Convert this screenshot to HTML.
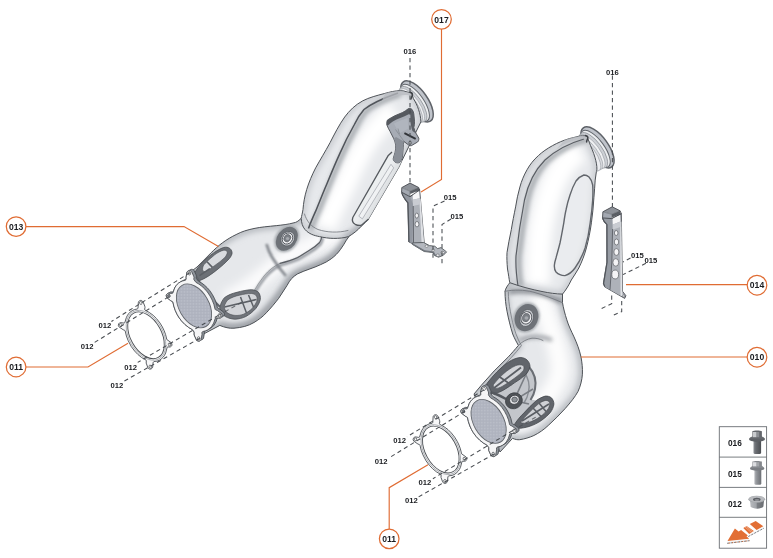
<!DOCTYPE html>
<html>
<head>
<meta charset="utf-8">
<title>Exhaust catalytic converter – exploded view</title>
<style>
html,body{margin:0;padding:0;background:#fff;}
body{width:773px;height:558px;overflow:hidden;font-family:"Liberation Sans",sans-serif;}
svg{display:block;}
text{font-family:"Liberation Sans",sans-serif;font-weight:bold;fill:#1b1d21;}
.lbl{font-size:8.1px;}
.co{font-size:8.6px;text-anchor:middle;}
.dash{fill:none;stroke:#484c51;stroke-width:1.05;stroke-dasharray:4.2 3.3;}
.or{fill:none;stroke:#e06c33;stroke-width:1.15;}
.orc{fill:#fff;stroke:#e06c33;stroke-width:1.25;}
.ol{fill:none;stroke:#4e5257;stroke-width:1;stroke-linejoin:round;stroke-linecap:round;}
.ol2{fill:none;stroke:#70747a;stroke-width:0.8;stroke-linejoin:round;stroke-linecap:round;}
</style>
</head>
<body>
<svg width="773" height="558" viewBox="0 0 773 558">
<defs>
  <pattern id="mesh" width="1.5" height="1.5" patternUnits="userSpaceOnUse" patternTransform="rotate(30)"><rect width="1.5" height="1.5" fill="#aeb2be"/><rect width="0.75" height="0.75" fill="#bcc0ca"/></pattern>
  <filter id="b2" filterUnits="userSpaceOnUse" x="0" y="0" width="773" height="558"><feGaussianBlur stdDeviation="2"/></filter>
  <filter id="b3" filterUnits="userSpaceOnUse" x="0" y="0" width="773" height="558"><feGaussianBlur stdDeviation="3.2"/></filter>
  <filter id="b5" filterUnits="userSpaceOnUse" x="0" y="0" width="773" height="558"><feGaussianBlur stdDeviation="5"/></filter>
  <filter id="b1" filterUnits="userSpaceOnUse" x="0" y="0" width="773" height="558"><feGaussianBlur stdDeviation="1"/></filter>

  <!-- LEFT assembly shapes -->
  <path id="L_low" d="M301,218.5 C298,221.5 296,222.5 293.9,222.8 C288,224.5 282,225 276.8,225.6 C268,226.5 261,227 254,228.5 C247,230 242,231.5 236.9,234.2 C231,237 227,239.5 222.6,242.7 C218,246 214.5,249.5 211.2,252.7 L197,267 L188,274 L196,338 L219.8,325.4 C225,327.5 229,328.5 234,328.2 C242,327.5 248,326 254,322.5 C259,319.5 263,316.5 266.3,312.8 C271,308 275,303 278.7,298.3 C281.5,294 284.3,289.8 287,285.5 C288.3,283 289.8,280.6 291.6,278.6 C293.3,276.8 295.3,275.2 297.5,273.9 C301.2,272 305.2,270.7 309.1,269.2 C313,267.8 317,266.4 320.7,264.6 C324.5,263 328,261.2 331.2,258.8 C334.8,256.2 337.9,253 340.5,249.4 C342.7,246.4 344.6,243.3 346.4,240.1 C348,237.6 350,235.2 352.2,233.1 L340,222 Z"/>
  <path id="L_up" d="M411.5,93.3 C408,92 404,91 400.6,90.7 C395,90.6 390,92 384.5,93.5 C377,95.5 369,97.5 362.8,100.8 C355,105 349.5,110.5 344.7,117 C339,125 334.5,134 330.2,142.4 C325,152 320,160 315.7,167.8 C312,175 309,182 306.7,189.5 C304.5,197 303.5,203 303,209.4 C302.5,213 301.5,216 301.2,218.5 C301.5,223 302.5,226.5 304.9,229.4 C309,234 314,235.5 319.4,236.6 C324,237.6 329,238.4 333.8,238.4 C339,238.4 344,238 348.3,236.6 C353,234 357.5,230.5 361.5,226 C364,223.5 366.5,221.3 368.6,218.9 L379.4,200.4 L389,184 L399,167 L402,160.5 L412,140 L420.9,121.9 C420.6,113.5 417.5,105 413.6,99 Z"/>
  <clipPath id="cL_low"><use href="#L_low"/></clipPath>
  <clipPath id="cL_up"><use href="#L_up"/></clipPath>

  <!-- RIGHT assembly shapes -->
  <path id="R_low" d="M509.8,282.7 C507.5,285.5 505.5,288.5 505,291.3 C505,298 505.8,305 507,311.2 C508.5,319 510.5,327 512.7,334 C514.5,338.5 516.5,342 518.4,345.4 C515,349.5 511.5,353.5 508.4,356.8 L494.1,371 L481.3,385.3 L474,394 L500,452 L512.6,438.3 C515,439.5 517.5,439.9 519.7,439.7 C524.5,439 529.5,437.5 533.9,435.5 C539,433 544,429.5 548.2,425.5 C554,420 560,414.5 565.3,408.4 C570.5,402.5 575,397 578.1,391.3 C580.5,386 582,380 582.4,374.2 C582.7,368 582,362.5 581,357 C579.5,350 577,343.5 574,336.9 C571,330.5 568.5,325.5 566.8,319.8 C565,314 563.3,308 562.5,302.7 L562.5,290 L540,280 Z"/>
  <path id="R_up" d="M586.7,136.3 C584,135.5 581,135.6 578,136.4 C575,137.2 572.5,137.9 569.7,138.5 C563.5,140.3 557.5,142.8 552.6,145.6 C547,148.7 542.5,151.8 538.4,155.6 C533.5,160 530,164.5 527,169.8 C523.8,175.5 521.5,181 519.9,187 C518,193.5 516.7,200 515.6,206.9 C514,215 512.5,222 511.3,229.7 C509.8,237.5 508,245 507,252.5 C506.7,258 507,263 507.5,269 C508.5,274 509,279 509.8,282.7 C520,286.5 532,289.5 542,291.5 C549,293 556,294 562.5,294.1 C565.5,290.5 568.5,286 571.3,280 C574,276 576.5,272 578.8,268 C582,261.5 584.5,255 586.4,247.9 C588.6,239.5 590.3,231 591.4,222.8 C592.6,214.5 593.4,206 593.9,197.7 C594.4,191.5 594.8,186 595.2,180.1 L596.4,171.5 L596.7,171.3 C597.6,166 595.6,157 590.6,145.8 Z"/>
  <clipPath id="cR_low"><use href="#R_low"/></clipPath>
  <clipPath id="cR_up"><use href="#R_up"/></clipPath>
</defs>

<rect width="773" height="558" fill="#fff"/>

<!-- ================= LEFT ASSEMBLY ================= -->
<g id="leftAsm">
  <!-- lower pipe -->
  <use href="#L_low" fill="#e6e8eb"/>
  <g clip-path="url(#cL_low)">
    <path d="M345,232 C320,242 300,248 280,262 C262,276 245,292 225,300" fill="none" stroke="#fbfbfc" stroke-width="17" filter="url(#b5)"/>
    <use href="#L_low" fill="none" stroke="#a9adb3" stroke-width="5.5" filter="url(#b3)"/>
    <path d="M350,236 C343,250 332,259 320.7,264.6 C311,269 297,272 291.6,278.6 C283,290 272,308 254,322 C244,328 230,329 219,325" fill="none" stroke="#8f9399" stroke-width="5" filter="url(#b3)"/>
    <!-- crease shading -->
    <path d="M321.9,236 C321.5,238.5 320.8,240.7 319.6,242.5 C316.5,245.7 313,248.3 309.1,250.6 C305.3,253 301.5,255.4 297.5,257.6 C292,260 286,261.8 280,263.4 C274,266 268.5,270.5 264,276 C260,281 256.5,286.5 253.5,292" fill="none" stroke="#9a9ea4" stroke-width="3" filter="url(#b1)" transform="translate(0.8 1.6)"/>
    <path d="M266.5,244 C268,250 270.5,255 273.5,259.5 C277,265 281,270.5 286,276" fill="none" stroke="#7f8389" stroke-width="2.6" filter="url(#b1)"/>
  </g>
  <use href="#L_low" class="ol"/>
  <path d="M321.9,236 C321.5,238.5 320.8,240.7 319.6,242.5 C316.5,245.7 313,248.3 309.1,250.6 C305.3,253 301.5,255.4 297.5,257.6 C292,260 286,261.8 280,263.4" fill="none" stroke="#5a5e64" stroke-width="1.2" stroke-linecap="round"/>
  <path d="M280,263.4 C274,266 268.5,270.5 264,276 C260,281 256.5,286.5 253.5,292" class="ol2" opacity="0.7"/>
  <!-- windows -->
  <g id="winL">
    <!-- shaded zone near flange -->
    <path d="M194,273.5 L202.9,261.9 C206,258.5 210,255.5 213.7,252.9 L199.3,280.7 C203,287 208,294 213,300 L220,306.7 L222,318 L210,300 Z" fill="#b9bcc1" opacity="0.55" filter="url(#b1)"/>
    <path d="M194,273.5 C196.5,269.3 199.6,265.5 202.9,261.9 C206.2,258.5 209.8,255.5 213.7,252.9 C216.8,250.7 220,248.8 223.5,247.5 C225.8,246.9 228.2,247.2 229.8,248.4 C231.5,249.8 232.3,251.8 232,253.8 C231.3,256.2 229.8,258.2 228,260 C225.2,263 222.2,265.7 219,268.2 C215.6,271.1 212,273.8 208.3,276.2 C205.5,278 202.5,279.6 199.3,280.7 Z" fill="#6c7076" stroke="#4a4e53" stroke-width="0.8"/>
    <path d="M203.6,265 C207,261.3 210.8,257.9 214.7,254.8 C217.6,252.7 220.6,250.9 223.8,250.2 C225.4,250 226.9,250.7 227.4,252 C227.2,254 226.2,255.9 224.8,257.5 C221.8,260.4 218.4,263 214.9,265.4 C212,267.6 208.9,269.7 205.8,271.5 C203.9,272 202.6,270.9 202.5,269.2 C202.6,267.7 203,266.3 203.6,265 Z" fill="#d9dbdf" stroke="#4a4e53" stroke-width="0.6"/>
    <path d="M207,261.8 L212.4,267.4 M199.5,275.6 L209.8,268.6" stroke="#5c6066" stroke-width="1.6" fill="none"/>
    <path d="M196,276 C200,284 206,292.5 212.5,299.5 C215,302 217.5,304.5 220,306.7" stroke="#62666c" stroke-width="2.2" fill="none"/>
    <path d="M220,306.7 C220.8,303.3 222.3,300.2 224.4,297.7 C228,295 232.3,293.4 237,292.3 C241.6,291 246.5,290 251.3,289.7 C254,289.8 256.6,290.7 258.5,292.3 C260,294.3 260.6,296.9 260.3,299.5 C259.5,302.8 257.9,305.8 255.8,308.5 C253,311.7 249.6,314.4 245.9,316.5 C242.6,318.1 239,319 235.2,319.2 C231.7,319.1 228.3,318.2 225.3,316.5 C223,315 221,312.8 220,310.3 C219.7,309 219.7,307.8 220,306.7 Z" fill="#70747a" stroke="#4a4e53" stroke-width="0.8"/>
    <path d="M224.3,306.5 C225,303.8 226.3,301.5 228,299.7 C231.5,297.5 235.5,296 239.5,295.2 C243.5,294.2 247.5,293.5 251.5,293.5 C253.6,293.7 255.4,294.5 256.5,296 C257.3,297.7 257.3,299.6 256.7,301.5 C255.7,304 254.2,306.3 252.3,308.3 C249.8,310.8 246.8,312.8 243.5,314.2 C240.8,315.2 237.9,315.6 235,315.4 C232.2,315.2 229.5,314.3 227.3,312.8 C225.5,311.2 224.3,309 224.3,306.5 Z" fill="#d3d5d9" stroke="#4a4e53" stroke-width="0.6"/>
    <path d="M240.5,297 L246.5,313 M248.5,295 L253.5,307 M224.5,307 L256.5,299.5" stroke="#5c6066" stroke-width="1.5" fill="none"/>
  </g>
  <!-- sensor boss -->
  <ellipse cx="286.8" cy="238.8" rx="14.6" ry="11.2" transform="rotate(-53 286.8 238.8)" fill="#a6aaaf" filter="url(#b1)"/>
  <ellipse cx="286.8" cy="238.8" rx="13" ry="9.7" transform="rotate(-53 286.8 238.8)" fill="#6e7278"/>
  <ellipse cx="287.7" cy="238.7" rx="7.7" ry="6.5" transform="rotate(-53 287.7 238.7)" fill="#c4c7cc" stroke="#55595e" stroke-width="0.7"/>
  <ellipse cx="287.5" cy="238.5" rx="5.9" ry="4.9" transform="rotate(-53 287.5 238.5)" fill="#f2f2f4" stroke="#50545a" stroke-width="0.9"/>
  <ellipse cx="287.3" cy="238.2" rx="3.9" ry="3.2" transform="rotate(-53 287.3 238.2)" fill="#7b7f85" stroke="#50545a" stroke-width="0.5"/>
  <ellipse cx="287.6" cy="238.4" rx="1.7" ry="1.5" fill="#a6a9ae"/>

  <!-- flange plate left-bottom -->
  <g id="flangeL">
  <path d="M202.2,339.6 L203.0,339.0 L203.5,338.3 L204.4,333.1 L204.3,331.2 L204.4,331.1 L205.7,330.8 L207.8,329.8 L208.2,329.5 L209.0,329.1 L209.4,328.9 L210.2,328.5 L212.4,326.9 L214.1,325.1 L216.1,321.7 L217.3,317.9 L220.2,318.0 L221.3,317.3 L221.4,317.3 L222.5,316.7 L222.6,316.7 L223.7,316.0 L224.4,314.8 L224.4,313.4 L223.7,312.2 L219.8,309.2 L218.0,308.5 L217.5,308.0 L216.3,303.1 L214.6,298.8 L212.4,294.6 L209.8,290.7 L207.2,287.7 L204.3,285.0 L201.3,282.8 L198.3,281.0 L196.4,278.5 L196.2,277.9 L196.4,276.2 L196.1,274.9 L194.1,270.5 L193.4,269.8 L192.5,269.4 L191.6,269.3 L190.7,269.5 L189.9,270.1 L189.9,270.1 L189.5,270.2 L188.7,270.7 L188.7,270.7 L188.3,270.8 L187.5,271.4 L187.0,272.1 L186.1,277.2 L186.2,279.0 L186.1,279.4 L185.1,279.6 L183.0,280.5 L182.4,280.9 L181.8,281.1 L181.2,281.5 L180.6,281.8 L178.7,283.0 L177.3,284.3 L176.0,285.8 L174.7,287.9 L173.2,292.0 L170.7,291.9 L169.8,292.3 L169.6,292.5 L169.5,292.5 L168.6,292.9 L168.4,293.2 L168.3,293.2 L167.4,293.6 L166.6,294.4 L166.2,295.9 L166.8,297.5 L170.7,300.7 L172.2,301.4 L172.9,302.0 L173.8,306.1 L175.3,310.5 L177.0,314.2 L178.7,317.1 L181.5,320.9 L185.1,324.6 L188.6,327.4 L192.5,329.7 L194.2,332.1 L194.2,335.0 L196.3,339.6 L196.9,340.5 L198.0,341.0 L198.9,341.1 L199.8,340.9 L200.6,340.3 L200.6,340.3 L201.0,340.2 L201.8,339.7 L201.8,339.7 Z" fill="#8f949b" stroke="#4a4e53" stroke-width="0.9" stroke-linejoin="round"/>
  <path d="M172.2,301.4 L172.9,302.0 L173.8,306.1 L175.3,310.5 L177.0,314.2 L178.7,317.1 L181.5,320.9 L185.1,324.6 L188.6,327.4 L192.5,329.7 L194.2,332.1 L194.2,335.0 L196.3,339.6 L196.9,340.5 L198.0,341.0 L198.9,341.1 L199.8,340.9 L200.6,340.3 L201.1,339.6 L202.0,334.4 L201.9,332.5 L202.4,331.8 L202.9,331.5 L205.7,330.8 L207.8,329.8 L210.0,328.2 L211.7,326.4 L213.7,323.0 L215.3,318.2 L215.9,317.9 L220.2,318.0 L221.3,317.3 L222.0,316.1 L222.0,314.7 L221.3,313.5 L217.4,310.5 L215.6,309.8 L215.1,309.3 L213.9,304.4 L212.2,300.1 L210.0,295.9 L207.4,292.0 L204.8,289.0 L201.9,286.3 L198.9,284.1 L195.9,282.3 L194.0,279.8 L193.8,279.2 L194.0,277.5 L193.7,276.2 L191.7,271.8 L191.0,271.1 L190.1,270.7 L189.2,270.6 L188.3,270.8 L187.5,271.4 L187.0,272.1 L186.1,277.2 L186.2,279.0 L186.0,279.6 L185.2,280.3 L182.7,280.9 L180.6,281.8 L178.7,283.0 L177.3,284.3 L176.0,285.8 L174.7,287.9 L172.8,293.1 L172.1,293.4 L168.3,293.2 L167.4,293.6 L166.6,294.4 L166.2,295.9 L166.8,297.5 L170.7,300.7 Z" fill="#f5f5f6" stroke="#4a4e53" stroke-width="0.85" stroke-linejoin="round"/>
  <ellipse cx="194" cy="305.9" rx="23.8" ry="15" transform="rotate(60 194 305.9)" fill="url(#mesh)" stroke="#62666c" stroke-width="0.9"/>
  <ellipse cx="189.4" cy="273.3" rx="1.3" ry="1.7" transform="rotate(-15 189.4 273.3)" fill="#ffffff" stroke="#4a4e53" stroke-width="0.7"/>
  <ellipse cx="168.9" cy="295.8" rx="1.3" ry="1.7" transform="rotate(-15 168.9 295.8)" fill="#7d8188" stroke="#4a4e53" stroke-width="0.7"/>
  <ellipse cx="219.4" cy="315.4" rx="1.3" ry="1.7" transform="rotate(-15 219.4 315.4)" fill="#ffffff" stroke="#4a4e53" stroke-width="0.7"/>
  <ellipse cx="198.7" cy="338.4" rx="1.3" ry="1.7" transform="rotate(-15 198.7 338.4)" fill="#ffffff" stroke="#4a4e53" stroke-width="0.7"/>
</g>

  <!-- top flange ring (behind body) -->
  <g id="ringL">
    <ellipse cx="417" cy="101.4" rx="23.9" ry="10.7" transform="rotate(55 417 101.4)" fill="#c0c4cb" stroke="#5e6268" stroke-width="1.5"/>
    <ellipse cx="414.9" cy="102.9" rx="21.8" ry="9" transform="rotate(55 414.9 102.9)" fill="#eceef0" stroke="#62666c" stroke-width="1"/>
    <ellipse cx="413.1" cy="104.2" rx="20.8" ry="8.5" transform="rotate(55 413.1 104.2)" fill="#cdd0d5" stroke="#8a8e94" stroke-width="0.7"/>
    <ellipse cx="411.3" cy="105.4" rx="20" ry="8.1" transform="rotate(55 411.3 105.4)" fill="#f0f1f3" stroke="#9a9ea4" stroke-width="0.6"/>
    <ellipse cx="409.6" cy="106.6" rx="19.6" ry="7.9" transform="rotate(55 409.6 106.6)" fill="#d9dbdf" stroke="#9a9ea4" stroke-width="0.6"/>
  </g>
  <!-- upper converter -->
  <use href="#L_up" fill="#e7e9ec"/>
  <g clip-path="url(#cL_up)">
    <path d="M395,112 C375,125 360,150 348,178 C340,195 330,212 325,228" fill="none" stroke="#ffffff" stroke-width="22" filter="url(#b5)"/>
    <use href="#L_up" fill="none" stroke="#bfc2c7" stroke-width="5" filter="url(#b3)"/>
    <path d="M402,160.5 L368.6,218.9 C362,228 354,234 345,238" fill="none" stroke="#9a9ea4" stroke-width="5" filter="url(#b3)"/>
    <path d="M398,93 C384,98 372,103 364,109.5 C360,114 357,119 354.4,124.5 C349,134 344,144 339.8,153.6 C335,164 330.5,175 326.4,185 C322.5,194 319.5,202 316.3,209.7 C313,217 310.5,222.5 308.5,228.5" fill="none" stroke="#a6aaaf" stroke-width="5" filter="url(#b2)" transform="translate(2.6 1.2)"/>
  </g>
  <use href="#L_up" class="ol"/>
  <!-- seam -->
  <path d="M398,93 C384,98 372,103 364,109.5 C360,114 357,119 354.4,124.5 C349,134 344,144 339.8,153.6 C335,164 330.5,175 326.4,185 C322.5,194 319.5,202 316.3,209.7 C313,217 310.5,222.5 308.5,228.5" fill="none" stroke="#50545a" stroke-width="1.5"/>
  <path d="M304.5,214 C306.5,221 311,226.5 318,229.5 C327,232.5 338,233 348,230.5" class="ol2"/>
  <!-- weld + seam stripe near neck -->
  <path d="M385,93.4 C390,92.2 395.5,90.9 400.6,90.9 C404,91.2 408,92.2 411.3,93.5 L410.6,95.4 C406,94.6 401,94.8 396,96 C391,97.4 386,99.6 381.5,102 Z" fill="#b9bcc2" opacity="0.75"/>
  <path d="M410.2,92.2 C411.6,92.6 412.6,93.6 412.4,95 C412,96.6 411.2,97.6 411,99" fill="none" stroke="#3e4146" stroke-width="1.5" stroke-linecap="round"/>
  <!-- heat-shield indent -->
  <path d="M398,153 L388.3,155.4 L352.8,217.5 Q351.3,222 355.2,224.3 Q358.5,226 361.5,225.2 L368.6,218.9 L399,167 L402,160.5 Z" fill="#eef0f2" fill-opacity="0.75"/>
  <path d="M392,152 L388.3,155.4 L352.8,217.5 Q351.3,222 355.2,224.3 Q358.5,226 361.5,225.2 L368.6,218.9" fill="none" stroke="#55595e" stroke-width="1.3" stroke-linejoin="round"/>
  <path d="M391,164.3 L358.8,216.2 L362.4,218.9 L393.7,167.9 Z" fill="#f4f5f6" fill-opacity="0.6" stroke="#a0a4aa" stroke-width="0.7" stroke-linejoin="round"/>
  <!-- integrated bracket -->
  <path id="ibk" d="M387.5,120 C390,118.3 392.5,117 395,115.7 L402.6,112.5 C404.6,111.5 406.5,110.2 408.2,108.8 C409.6,108.2 411,108.5 412,109.4 C413,110.7 413.5,112.2 413.8,113.8 L414.5,121.3 C414.6,123.5 414.3,125.6 413.8,127.6 C414.3,129.8 415.2,131.9 416.3,133.8 L418.8,138.2 C419,139.7 418.6,141 417.6,142 L411.3,145.7 C410.5,145.9 409.6,145.7 408.8,145.1 L403.8,141.4 C403.4,143.4 403.3,145.5 403.2,147.6 L402.6,155.1 C402.4,157 402,158.7 401.3,160.2 C400.7,161.5 399.9,162.3 398.8,162.7 C397.4,163 396,162.8 395,162 C393.9,161.2 393.3,160.1 393.2,158.9 C393.6,156.7 394.4,154.7 395,152.6 C395.6,150.2 395.9,147.6 395.7,145.1 C395.4,142.9 394.7,140.8 393.8,138.8 L390,131.3 C388.8,129.3 387.7,127.2 386.9,125 C386.6,123.2 386.8,121.4 387.5,120 Z" fill="#a7acb5" stroke="#484c51" stroke-width="0.9" stroke-linejoin="round"/>
  <path d="M387.5,120 C390,118.3 392.5,117 395,115.7 L402.6,112.5 C404.6,111.5 406.5,110.2 408.2,108.8 C409.6,108.2 411,108.5 412,109.4 L411.2,113 C409,114 406.5,115.3 404,116.4 L396.5,119.6 C394,120.8 391.5,122.3 389.6,124 C388.6,125 387.6,126 386.9,125 C386.6,123.2 386.8,121.4 387.5,120 Z" fill="#55595f"/>
  <path d="M412,109.4 C413,110.7 413.5,112.2 413.8,113.8 L414.5,121.3 C414.6,123.5 414.3,125.6 413.8,127.6 C414.3,129.8 415.2,131.9 416.3,133.8 L412.5,131 C411.3,127.5 410.6,124 410.5,120.5 L410.3,113.2 Z" fill="#5c6066"/>
  <path d="M395.7,145.1 C395.4,142.9 394.7,140.8 393.8,138.8 L396,137 L403.8,141.4 C403.4,143.4 403.3,145.5 403.2,147.6 L402.6,155.1 C402.4,157 402,158.7 401.3,160.2 C400.7,161.5 399.9,162.3 398.8,162.7 C397.4,163 396,162.8 395,162 C393.9,161.2 393.3,160.1 393.2,158.9 C393.6,156.7 394.4,154.7 395,152.6 C395.6,150.2 395.9,147.6 395.7,145.1 Z" fill="#8a8f97"/>
  <path d="M394,123.5 C398,121.5 403,119.5 407.5,118 L408.5,128.5 L400,133 C397.5,130 395.5,127 394,123.5 Z" fill="#b3b8c1" opacity="0.8"/>
  <path d="M404.4,133.2 L415.7,138.8" stroke="#303338" stroke-width="1.9" fill="none"/>
  <path d="M395.5,129.5 L404,141.3 M398,128.5 L399.5,134" stroke="#7a7f87" stroke-width="0.6" fill="none"/>
  <circle cx="410.1" cy="142.8" r="1.5" fill="#e9eaec" stroke="#3e4146" stroke-width="0.6"/>
</g>

<!-- ================= RIGHT ASSEMBLY ================= -->
<g id="rightAsm">
  <use href="#R_low" fill="#e6e8eb"/>
  <g clip-path="url(#cR_low)">
    <path d="M540,290 C545,320 560,345 560,372 C555,395 535,410 515,425" fill="none" stroke="#fdfdfd" stroke-width="19" filter="url(#b5)"/>
    <use href="#R_low" fill="none" stroke="#a9adb3" stroke-width="5.5" filter="url(#b3)"/>
    <path d="M509,292 C530,289 548,294 562,302" fill="none" stroke="#8a8e94" stroke-width="5" filter="url(#b2)"/>
    <path d="M520,340 C530,336 542,336 552,340" fill="none" stroke="#8a8e94" stroke-width="3" filter="url(#b2)"/>
  </g>
  <use href="#R_low" class="ol"/>
  <path d="M505,291.3 C514,289.5 524,289.8 533,292 C544,295 554,299 562.5,302.7" class="ol2"/>
  <path d="M508.3,291.6 C508.3,298.5 509.2,305 510.3,311.2 C511.7,319 513.6,327 515.8,333.6 C517.4,338 519.3,342 521.4,345.6 C518.2,349.8 514.7,353.8 511.4,357.4 L497,372.4 L484.2,386.8" fill="none" stroke="#72767c" stroke-width="0.8" stroke-linejoin="round"/>

  <path d="M518.4,345.4 C522,341.5 527,339 532,338.2 C536,338 540,338.8 543,340.5" class="ol2"/>
  <!-- windows -->
  <g id="winR">
    <!-- inner zone between windows -->
    <path d="M487,383.5 L496.9,371.9 L508.5,362 L520.2,357.5 L527.3,360.2 L530,366.5 C534.5,372 536.5,380 535,388 C534.5,392 533,396 531,399.5 L536.3,400.6 L545.3,396.1 L551.5,397.9 L553.9,404.1 L550.6,412.2 L541.7,420.3 L529.1,426.5 L518.4,428.3 L512,430 L505,415 L497,402 Z" fill="#c3c6cb"/>
    <path d="M529,367 C534.5,373 536.5,381 535,389 C534.3,393 532.5,397 530.5,400" fill="none" stroke="#6a6e74" stroke-width="2"/>
    <path d="M524,372 C528.5,378 530,385 528.5,392 C527.8,396 526,400 524,403" fill="none" stroke="#8a8e94" stroke-width="1.4"/>
    <path d="M513.9,400.6 L528,370 M513.9,400.6 L533,389 M513.9,400.6 L529,404" fill="none" stroke="#7a7e84" stroke-width="1.6"/>
    <!-- upper window -->
    <path d="M487,383.5 C490,379.3 493.4,375.5 496.9,371.9 C500.5,368.3 504.4,364.9 508.5,362 C512.1,359.7 516,358 520.2,357.5 C522.9,357.5 525.5,358.4 527.3,360.2 C529,361.9 529.9,364.2 530,366.5 C529.3,369.6 527.7,372.3 525.6,374.6 C522.3,377.7 518.7,380.3 514.8,382.6 C511.3,385.2 507.7,387.6 504,389.8 C500.5,391.8 497,393.3 493.5,393.6 C490.5,393.2 488.3,391.4 487.2,388.8 C486.6,387 486.5,385.2 487,383.5 Z" fill="#61656b" stroke="#44484d" stroke-width="0.8"/>
    <path d="M493.5,384.5 C496.5,380.5 500,376.8 503.8,373.5 C507.5,370.3 511.5,367.5 515.8,365.6 C518.5,364.6 521.3,364.5 523.3,365.6 C524.3,367 524.2,368.9 523.3,370.5 C520.8,373.5 517.8,376 514.5,378.2 C510.5,381.2 506.5,384 502.2,386.4 C499.8,387.7 497.3,388.6 495,388.4 C493.5,387.6 493,386.1 493.5,384.5 Z" fill="#d2d4d8" stroke="#44484d" stroke-width="0.6"/>
    <path d="M499,376.5 L511.5,385 M494,388 L521,367.5" stroke="#5a5e64" stroke-width="1.8" fill="none"/>
    <!-- struts from flange to boss -->
    <path d="M489,392 C494,393 500,395.5 506,399" stroke="#55595f" stroke-width="2.6" fill="none"/>
    <path d="M497,404 C502,408 507,415 511,424" stroke="#6a6e74" stroke-width="2" fill="none"/>
    <!-- lower window -->
    <path d="M514.8,423.9 C517.3,420 520.4,416.4 523.8,413.1 C527.7,408.7 531.9,404.5 536.3,400.6 C539,398.6 542.1,397 545.3,396.1 C547.5,395.9 549.8,396.5 551.5,397.9 C553,399.5 553.9,401.7 553.9,404.1 C553.5,407.1 552.3,409.8 550.6,412.2 C548,415.3 545,418 541.7,420.3 C537.8,423 533.6,425.1 529.1,426.5 C525.6,427.6 522,428.2 518.4,428.3 C516.5,428 515,426.5 514.5,425 Z" fill="#61656b" stroke="#44484d" stroke-width="0.8"/>
    <path d="M520.5,422.5 C522.7,419.3 525.3,416.3 528.2,413.6 C531.5,410 535,406.6 538.8,403.6 C541,402 543.4,400.8 545.9,400.4 C547.6,400.4 549,401.2 549.6,402.6 C549.9,404.7 549.3,406.8 548.2,408.7 C546,411.9 543.2,414.6 540,416.8 C536.5,419.3 532.7,421.2 528.7,422.5 C526,423.3 523.2,423.6 520.5,422.5 Z" fill="#cfd1d5" stroke="#44484d" stroke-width="0.6"/>
    <path d="M533,408 L541.5,417 M522,421 L549,404 M539,403 L546,411.5" stroke="#5a5e64" stroke-width="1.6" fill="none"/>
    <!-- centre boss -->
    <ellipse cx="513.9" cy="400.8" rx="8.6" ry="7.8" transform="rotate(-30 513.9 400.8)" fill="#4f5358" stroke="#3a3d42" stroke-width="0.7"/>
    <ellipse cx="514.4" cy="399.8" rx="5" ry="4.5" transform="rotate(-30 514.4 399.8)" fill="#dfe0e3" stroke="#3a3d42" stroke-width="0.8"/>
    <ellipse cx="514.6" cy="399.6" rx="2.8" ry="2.5" fill="#8e9297" stroke="#44484d" stroke-width="0.7"/>
  </g>
  <!-- sensor boss -->
  <ellipse cx="526.5" cy="317.6" rx="15.4" ry="13" transform="rotate(-68 526.5 317.6)" fill="#a6aaaf" filter="url(#b1)"/>
  <ellipse cx="526.5" cy="317.6" rx="13.9" ry="11.5" transform="rotate(-68 526.5 317.6)" fill="#6e7278"/>
  <ellipse cx="526.6" cy="318" rx="8.8" ry="6.7" transform="rotate(-68 526.6 318)" fill="#c4c7cc" stroke="#55595e" stroke-width="0.7"/>
  <ellipse cx="526.3" cy="317.8" rx="6.3" ry="5.4" transform="rotate(-68 526.3 317.8)" fill="#f2f2f4" stroke="#50545a" stroke-width="0.9"/>
  <ellipse cx="526" cy="317.6" rx="4.3" ry="3.6" transform="rotate(-68 526 317.6)" fill="#7b7f85" stroke="#50545a" stroke-width="0.5"/>
  <ellipse cx="526.4" cy="318" rx="1.9" ry="1.7" fill="#a6a9ae"/>

  <!-- flange plate right-bottom -->
  <g id="flangeR">
  <path d="M496.9,455.0 L497.6,454.5 L498.1,453.8 L499.0,448.6 L498.9,446.7 L499.0,446.6 L500.3,446.3 L502.4,445.3 L502.8,445.0 L503.6,444.6 L504.0,444.4 L504.8,444.0 L507.0,442.4 L508.7,440.6 L510.7,437.2 L511.9,433.4 L514.8,433.5 L515.9,432.8 L516.0,432.8 L517.1,432.2 L517.2,432.2 L518.3,431.5 L519.0,430.3 L519.0,428.9 L518.3,427.7 L514.4,424.7 L512.6,424.0 L512.1,423.5 L510.9,418.6 L509.2,414.3 L507.0,410.1 L504.4,406.2 L501.8,403.2 L498.9,400.5 L495.9,398.3 L492.9,396.5 L491.0,394.0 L490.8,393.4 L491.0,391.7 L490.7,390.4 L488.7,386.0 L488.0,385.3 L487.1,384.9 L486.2,384.8 L485.2,385.1 L484.5,385.6 L484.0,385.7 L483.3,386.2 L482.8,386.4 L482.1,386.9 L481.6,387.6 L480.7,392.7 L480.8,394.5 L480.7,394.9 L479.7,395.1 L477.6,396.0 L477.0,396.4 L476.4,396.6 L475.8,397.0 L475.2,397.3 L473.3,398.5 L471.9,399.8 L470.6,401.3 L469.3,403.4 L467.8,407.5 L465.3,407.4 L464.4,407.8 L464.2,408.0 L464.1,408.0 L463.2,408.4 L463.0,408.7 L462.9,408.7 L462.0,409.1 L461.2,409.9 L460.8,411.5 L461.4,413.0 L465.3,416.2 L466.8,416.9 L467.5,417.5 L468.4,421.6 L469.9,426.0 L471.6,429.7 L473.3,432.6 L476.1,436.4 L479.7,440.1 L483.2,442.9 L487.1,445.2 L488.8,447.6 L488.8,450.5 L490.9,455.1 L491.5,456.0 L492.6,456.5 L493.5,456.6 L494.5,456.3 L495.2,455.8 L495.7,455.7 L496.4,455.2 Z" fill="#8f949b" stroke="#4a4e53" stroke-width="0.9" stroke-linejoin="round"/>
  <path d="M466.8,416.9 L467.5,417.5 L468.4,421.6 L469.9,426.0 L471.6,429.7 L473.3,432.6 L476.1,436.4 L479.7,440.1 L483.2,442.9 L487.1,445.2 L488.8,447.6 L488.8,450.5 L490.9,455.1 L491.5,456.0 L492.6,456.5 L493.5,456.6 L494.5,456.3 L495.2,455.8 L495.7,455.1 L496.6,449.9 L496.5,448.0 L497.0,447.3 L497.5,447.0 L500.3,446.3 L502.4,445.3 L504.6,443.7 L506.3,441.9 L508.3,438.5 L509.9,433.7 L510.5,433.4 L514.8,433.5 L515.9,432.8 L516.6,431.6 L516.6,430.2 L515.9,429.0 L512.0,426.0 L510.2,425.3 L509.7,424.8 L508.5,419.9 L506.8,415.6 L504.6,411.4 L502.0,407.5 L499.4,404.5 L496.5,401.8 L493.5,399.6 L490.5,397.8 L488.6,395.3 L488.4,394.7 L488.6,393.0 L488.3,391.7 L486.3,387.3 L485.6,386.6 L484.7,386.2 L483.8,386.1 L482.8,386.4 L482.1,386.9 L481.6,387.6 L480.7,392.7 L480.8,394.5 L480.6,395.1 L479.8,395.8 L477.3,396.4 L475.2,397.3 L473.3,398.5 L471.9,399.8 L470.6,401.3 L469.3,403.4 L467.4,408.6 L466.7,408.9 L462.9,408.7 L462.0,409.1 L461.2,409.9 L460.8,411.5 L461.4,413.0 L465.3,416.2 Z" fill="#f5f5f6" stroke="#4a4e53" stroke-width="0.85" stroke-linejoin="round"/>
  <ellipse cx="488.6" cy="421.4" rx="23.8" ry="15" transform="rotate(60 488.6 421.4)" fill="url(#mesh)" stroke="#62666c" stroke-width="0.9"/>
  <ellipse cx="484.0" cy="388.8" rx="1.3" ry="1.7" transform="rotate(-15 484.0 388.8)" fill="#ffffff" stroke="#4a4e53" stroke-width="0.7"/>
  <ellipse cx="463.5" cy="411.3" rx="1.3" ry="1.7" transform="rotate(-15 463.5 411.3)" fill="#7d8188" stroke="#4a4e53" stroke-width="0.7"/>
  <ellipse cx="514.0" cy="430.9" rx="1.3" ry="1.7" transform="rotate(-15 514.0 430.9)" fill="#ffffff" stroke="#4a4e53" stroke-width="0.7"/>
  <ellipse cx="493.3" cy="453.9" rx="1.3" ry="1.7" transform="rotate(-15 493.3 453.9)" fill="#ffffff" stroke="#4a4e53" stroke-width="0.7"/>
</g>

  <!-- top flange ring (behind body) -->
  <g id="ringR">
    <ellipse cx="597.5" cy="147.4" rx="24.1" ry="10.7" transform="rotate(54 597.5 147.4)" fill="#c0c4cb" stroke="#5e6268" stroke-width="1.5"/>
    <ellipse cx="595.4" cy="148.9" rx="22" ry="9" transform="rotate(54 595.4 148.9)" fill="#eceef0" stroke="#62666c" stroke-width="1"/>
    <ellipse cx="593.5" cy="150.3" rx="21" ry="8.5" transform="rotate(54 593.5 150.3)" fill="#cdd0d5" stroke="#8a8e94" stroke-width="0.7"/>
    <ellipse cx="591.4" cy="151.8" rx="20.3" ry="8.2" transform="rotate(54 591.4 151.8)" fill="#f0f1f3" stroke="#9a9ea4" stroke-width="0.6"/>
    <ellipse cx="589.4" cy="153.3" rx="19.9" ry="8" transform="rotate(54 589.4 153.3)" fill="#d9dbdf" stroke="#9a9ea4" stroke-width="0.6"/>
    <ellipse cx="587.6" cy="154.6" rx="19.6" ry="7.9" transform="rotate(54 587.6 154.6)" fill="#ecedf0" stroke="#9a9ea4" stroke-width="0.6"/>
  </g>
  <use href="#R_up" fill="#e7e9ec"/>
  <g clip-path="url(#cR_up)">
    <path d="M580,150 C555,165 545,200 540,235 C538,255 538,270 538,285" fill="none" stroke="#ffffff" stroke-width="24" filter="url(#b5)"/>
    <use href="#R_up" fill="none" stroke="#bfc2c7" stroke-width="5" filter="url(#b3)"/>
    <path d="M584,139 C570,143 556,150 545,160 C535,170 528,184 524.5,200 C521,218 518,238 516,256 C515.5,266 516.5,276 518,286" fill="none" stroke="#a6aaaf" stroke-width="5" filter="url(#b2)" transform="translate(3 0.6)"/>
  </g>
  <use href="#R_up" class="ol"/>
  <path d="M584,139 C570,143 556,150 545,160 C535,170 528,184 524.5,200 C521,218 518,238 516,256 C515.5,266 516.5,276 518,286" fill="none" stroke="#5a5e64" stroke-width="1.2"/>
  <path d="M565,139.8 C570,138.3 575,136.8 579,136.2 C581.8,135.7 584.5,135.9 586.6,136.5 L585.6,138.6 C581,138.6 576,139.8 571,141.6 C566,143.5 561,146 556.5,149 Z" fill="#b9bcc2" opacity="0.75"/>
  <path d="M585.4,135.4 C586.8,135.6 587.9,136.5 587.8,137.9 C587.5,139.5 586.7,140.5 586.6,141.9" fill="none" stroke="#3e4146" stroke-width="1.5" stroke-linecap="round"/>
  <!-- heat shield oval -->
  <path d="M583.9,175 C580.5,176.2 578,178.3 576,181 C573.5,185.3 571.6,190 570,195 C568.3,200 567,205 566,210 C565,214.3 564.4,218.5 563.8,222.8 C562.6,229.5 561.4,236.3 560,243 C558.8,248 557.3,253 556,258 C555.2,260.5 554.6,262.7 554.4,265 C554.2,268 554.7,270.3 556,272 C558.5,274.5 561.6,275.7 565,275.6 C569,274.5 572.3,271.7 575,268 C579.3,262 582.6,255.2 585.1,247.9 C587.6,239.7 589.2,231.3 590.2,222.8 C591.3,215.3 592.2,207.7 592.7,200 C593,195 593,190 592.7,185 C592,181.5 590.7,178.8 589,177 C587.5,175.6 585.7,175 583.9,175 Z" fill="#eeeff1" fill-opacity="0.5" stroke="#62666c" stroke-width="1.4"/>
</g>


<!-- ================= GASKETS ================= -->
<g id="gaskL">
  <path d="M123.1,329.7 L124.8,330.4 L125.2,331.0 L126.4,336.0 L128.1,340.5 L131.3,346.6 L134.6,351.0 L137.8,354.4 L141.7,357.6 L146.1,360.1 L146.3,360.7 L146.2,363.1 L147.8,367.5 L148.5,368.5 L149.4,369.1 L151.1,369.0 L152.4,367.9 L152.7,367.1 L153.1,362.6 L153.5,361.9 L154.0,361.6 L157.2,361.1 L159.3,360.3 L161.2,359.0 L163.2,357.1 L164.6,355.2 L165.7,352.9 L167.2,347.2 L168.0,346.9 L169.5,347.0 L170.5,346.8 L171.4,346.2 L171.9,345.3 L171.9,344.0 L171.4,342.8 L166.8,339.5 L165.6,334.6 L164.2,330.8 L162.4,327.0 L159.9,322.9 L156.5,318.6 L153.2,315.3 L149.2,312.4 L144.9,310.0 L144.6,309.3 L145.0,307.6 L144.8,306.2 L143.0,301.7 L142.4,301.0 L141.6,300.5 L140.7,300.4 L139.8,300.6 L139.1,301.1 L138.5,301.8 L138.3,302.8 L138.0,308.0 L137.7,308.7 L137.2,309.0 L134.3,309.6 L132.3,310.6 L130.1,312.1 L128.5,313.8 L127.2,315.8 L126.3,317.7 L124.8,322.7 L124.0,323.1 L120.4,322.6 L119.4,323.0 L118.7,323.8 L118.3,325.3 L118.9,326.8 Z" fill="#f8f8f9" stroke="#4a4e53" stroke-width="0.9" stroke-linejoin="round"/>
  <ellipse cx="146" cy="335.3" rx="26.9" ry="17" transform="rotate(61 146 335.3)" fill="none" stroke="#a3a6ab" stroke-width="0.8"/>
  <ellipse cx="146" cy="335.3" rx="25.3" ry="15.5" transform="rotate(61 146 335.3)" fill="#ffffff" stroke="#4a4e53" stroke-width="0.9"/>
  <ellipse cx="140.8" cy="302.9" rx="1.2" ry="1.6" transform="rotate(-15 140.8 302.9)" fill="#ffffff" stroke="#4a4e53" stroke-width="0.7"/>
  <ellipse cx="120.8" cy="325.1" rx="1.2" ry="1.6" transform="rotate(-15 120.8 325.1)" fill="#ffffff" stroke="#4a4e53" stroke-width="0.7"/>
  <ellipse cx="169.5" cy="344.5" rx="1.2" ry="1.6" transform="rotate(-15 169.5 344.5)" fill="#ffffff" stroke="#4a4e53" stroke-width="0.7"/>
  <ellipse cx="150.2" cy="366.7" rx="1.2" ry="1.6" transform="rotate(-15 150.2 366.7)" fill="#ffffff" stroke="#4a4e53" stroke-width="0.7"/>
</g>
<g id="gaskR">
  <path d="M417.9,444.0 L419.6,444.7 L420.0,445.3 L421.2,450.3 L422.9,454.8 L426.1,460.9 L429.4,465.3 L432.6,468.7 L436.5,471.9 L440.9,474.4 L441.1,475.0 L441.0,477.4 L442.6,481.8 L443.3,482.8 L444.2,483.4 L445.9,483.3 L447.2,482.2 L447.5,481.4 L447.9,476.9 L448.3,476.2 L448.8,475.9 L452.0,475.4 L454.1,474.6 L456.0,473.3 L458.0,471.4 L459.4,469.5 L460.5,467.2 L462.0,461.5 L462.8,461.2 L464.3,461.3 L465.3,461.1 L466.2,460.5 L466.7,459.6 L466.7,458.3 L466.2,457.1 L461.6,453.8 L460.4,448.9 L459.0,445.1 L457.2,441.3 L454.7,437.2 L451.3,432.9 L448.0,429.6 L444.0,426.7 L439.7,424.3 L439.4,423.6 L439.8,421.9 L439.6,420.5 L437.8,416.0 L437.2,415.3 L436.4,414.8 L435.5,414.7 L434.6,414.9 L433.9,415.4 L433.3,416.1 L433.1,417.1 L432.8,422.3 L432.5,423.0 L432.0,423.3 L429.1,423.9 L427.1,424.9 L424.9,426.4 L423.3,428.1 L422.0,430.1 L421.1,432.0 L419.6,437.0 L418.8,437.4 L415.2,436.9 L414.2,437.3 L413.5,438.1 L413.1,439.7 L413.7,441.1 Z" fill="#f8f8f9" stroke="#4a4e53" stroke-width="0.9" stroke-linejoin="round"/>
  <ellipse cx="440.8" cy="449.6" rx="26.9" ry="17" transform="rotate(61 440.8 449.6)" fill="none" stroke="#a3a6ab" stroke-width="0.8"/>
  <ellipse cx="440.8" cy="449.6" rx="25.3" ry="15.5" transform="rotate(61 440.8 449.6)" fill="#ffffff" stroke="#4a4e53" stroke-width="0.9"/>
  <ellipse cx="435.6" cy="417.2" rx="1.2" ry="1.6" transform="rotate(-15 435.6 417.2)" fill="#ffffff" stroke="#4a4e53" stroke-width="0.7"/>
  <ellipse cx="415.6" cy="439.4" rx="1.2" ry="1.6" transform="rotate(-15 415.6 439.4)" fill="#ffffff" stroke="#4a4e53" stroke-width="0.7"/>
  <ellipse cx="464.3" cy="458.8" rx="1.2" ry="1.6" transform="rotate(-15 464.3 458.8)" fill="#ffffff" stroke="#4a4e53" stroke-width="0.7"/>
  <ellipse cx="445.0" cy="481.0" rx="1.2" ry="1.6" transform="rotate(-15 445.0 481.0)" fill="#ffffff" stroke="#4a4e53" stroke-width="0.7"/>
</g>

<!-- ================= BRACKET 017 ================= -->
<g id="br017">
  <!-- main silhouette -->
  <path d="M401.6,192.2 C402.5,196 405,199.5 407.8,203 L408.8,241.9 L412.4,243.6 L424.2,242.8 L419.6,189.5 L410,196.7 Z" fill="#a5a9b1" stroke="#484c51" stroke-width="0.9" stroke-linejoin="round"/>
  <!-- left rail -->
  <path d="M401.6,192.2 C402.5,196 405,199.5 407.8,203 L408.8,241.9 L412.3,243.2 L412.9,204 L410,196.7 Z" fill="#9297a0"/>
  <path d="M401.8,192.6 C402.7,196.2 405.2,199.6 408,203 L409,241.9" fill="none" stroke="#50545a" stroke-width="1.2"/>
  <!-- channel -->
  <path d="M413.2,206 L413.5,242.6 L421.4,242.4 L419.4,204.5 Z" fill="#aeb2b9"/>
  <path d="M413.2,206 L413.5,242.6" stroke="#5a5e64" stroke-width="0.9" fill="none"/>
  <!-- right rail -->
  <path d="M419.3,199 L421.5,242.4 L424.1,242.7 L420.6,198.6 Z" fill="#dfe1e5"/>
  <!-- white panel -->
  <path d="M412.4,192.6 L419.2,191.3 L419.7,198.3 L412.9,199.8 Z" fill="#f6f6f7"/>
  <path d="M412.9,199.8 L419.7,198.3 L419.9,204.4 L413.1,206 Z" fill="#c9ccd2"/>
  <!-- top block -->
  <path d="M401.8,187.6 L410,183.1 L418.7,187.5 L410,191.3 Z" fill="#8e9299"/>
  <path d="M401.8,187.6 L410,191.3 L410,196.7 L401.6,192.2 Z" fill="#a3a8b1"/>
  <path d="M410,191.3 L418.7,187.5 L419.4,190.2 L410.2,193.9 Z" fill="#5a5e64"/>
  <path d="M401.8,187.6 L410,183.1 L418.7,187.5 L419.6,190 L410,196.7 L401.6,192.2 Z" fill="none" stroke="#484c51" stroke-width="0.9" stroke-linejoin="round"/>
  <path d="M401.8,187.6 L410,191.3 L418.7,187.5 M410,191.3 L410,196.7" fill="none" stroke="#60646a" stroke-width="0.6"/>
  <ellipse cx="416.8" cy="215.6" rx="1.7" ry="2.5" fill="#f4f4f6" stroke="#484c51" stroke-width="0.6"/>
  <ellipse cx="417" cy="224.2" rx="1.9" ry="2.7" fill="#f4f4f6" stroke="#484c51" stroke-width="0.6"/>
  <!-- foot -->
  <path d="M412.4,242.9 L423.7,242.5 L429.5,245.6 L434.8,246.2 L437.6,248.6 L441,247.6 L446.6,251.9 L443.2,255.4 L438.5,257.2 L434.6,255.6 L433,252.6 L424.2,251.5 L412.4,244.4 Z" fill="#b4b8bf" stroke="#484c51" stroke-width="0.8" stroke-linejoin="round"/>
  <path d="M412.4,244.4 L424.2,251.5 L433,252.6 L434.6,255.6 L438.5,257.2 L438.6,255.8 L435.4,254.4 L433.8,251.4 L424.6,250.2 L413,243.4 Z" fill="#6f747b"/>
  <ellipse cx="426.6" cy="246.2" rx="1.5" ry="1.2" fill="#f4f4f6" stroke="#484c51" stroke-width="0.5"/>
  <ellipse cx="433.2" cy="250.2" rx="1.5" ry="1.2" fill="#f4f4f6" stroke="#484c51" stroke-width="0.5"/>
  <ellipse cx="437.8" cy="255.2" rx="1.6" ry="1.2" fill="#f4f4f6" stroke="#484c51" stroke-width="0.5"/>
  <ellipse cx="442.6" cy="252.6" rx="1.7" ry="1.3" fill="#f4f4f6" stroke="#484c51" stroke-width="0.5"/>
</g>

<!-- ================= BRACKET 014 ================= -->
<g id="br014">
  <path d="M602.5,217.9 C603,220.5 604.8,222.6 606.8,224.4 L606.9,262.2 L603.4,283.4 L604.6,286.8 L624.7,298.4 L625.9,295.7 L622.5,291.3 L621.3,213.6 L611.8,218.6 Z" fill="#a8acb4" stroke="#484c51" stroke-width="0.9" stroke-linejoin="round"/>
  <!-- left rail -->
  <path d="M602.5,217.9 C603,220.5 604.8,222.6 606.8,224.4 L606.9,262.2 L603.4,283.4 L604.6,286.8 L609.4,289.6 L611.4,262 L612.2,228 L611.8,218.6 Z" fill="#979ca4"/>
  <path d="M602.7,218.2 C603.2,220.7 605,222.8 607,224.6 L607.1,262.2 L603.6,283.4 L604.8,286.6" fill="none" stroke="#50545a" stroke-width="1.2" stroke-linejoin="round"/>
  <!-- channel -->
  <path d="M612.6,229 L611.8,262 L610,289.8 L620.6,295.8 L620.4,227 Z" fill="#aeb2b9"/>
  <path d="M612.6,229 L611.8,262 L610,289.8" stroke="#5a5e64" stroke-width="0.9" fill="none"/>
  <!-- right rail -->
  <path d="M620.2,222 L620.5,295.6 L622.4,296.6 L621.4,221.6 Z" fill="#e1e3e6"/>
  <!-- white panel -->
  <path d="M612.6,217.9 L620.1,215.1 L620.4,221.6 L612.9,224.5 Z" fill="#f6f6f7"/>
  <path d="M612.9,224.5 L620.4,221.6 L620.5,227 L613,229.6 Z" fill="#c9ccd2"/>
  <!-- top block -->
  <path d="M602.9,211.8 L612.2,206.8 L620.1,210.8 L611.8,214.3 Z" fill="#8e9299"/>
  <path d="M602.9,211.8 L611.8,214.3 L611.8,218.6 L602.5,217.9 Z" fill="#a3a8b1"/>
  <path d="M611.8,214.3 L620.1,210.8 L620.5,214 L612.1,217.6 Z" fill="#5a5e64"/>
  <path d="M602.9,211.8 L612.2,206.8 L620.1,210.8 L621.3,213.6 L611.8,218.6 L602.5,217.9 Z" fill="none" stroke="#484c51" stroke-width="0.9" stroke-linejoin="round"/>
  <path d="M602.9,211.8 L611.8,214.3 L620.1,210.8 M611.8,214.3 L611.8,218.6" fill="none" stroke="#60646a" stroke-width="0.6"/>
  <ellipse cx="616.2" cy="233" rx="1.8" ry="2.5" fill="#f4f4f6" stroke="#484c51" stroke-width="0.6"/>
  <ellipse cx="616.5" cy="242" rx="2.2" ry="3" fill="#f4f4f6" stroke="#484c51" stroke-width="0.6"/>
  <ellipse cx="616.4" cy="252" rx="2.5" ry="3.4" fill="#f4f4f6" stroke="#484c51" stroke-width="0.6"/>
  <ellipse cx="615.8" cy="262.4" rx="2.9" ry="3.8" fill="#f4f4f6" stroke="#484c51" stroke-width="0.6"/>
  <ellipse cx="615.2" cy="274.5" rx="3.4" ry="4.4" fill="#f4f4f6" stroke="#484c51" stroke-width="0.6"/>
  <ellipse cx="623.8" cy="296" rx="1" ry="1.2" fill="#f4f4f6" stroke="#484c51" stroke-width="0.5"/>
</g>

<!-- ================= DASHED LINES ================= -->
<g class="dash">
  <path d="M189.9,272.7 L111.4,321.5"/>
  <path d="M168.5,296.9 L93.8,342.9"/>
  <path d="M218.4,315.4 L137.7,362.4"/>
  <path d="M199.8,338.2 L123.9,381.3"/>
  <path d="M484,389.9 L407,436.8"/>
  <path d="M465,411.2 L389.4,457.7"/>
  <path d="M512.6,430.6 L432.9,478.7"/>
  <path d="M494,454 L418.4,497"/>
  <path d="M410,58 L410,183.5"/>
  <path d="M612.4,75.6 L612.4,207"/>
  <path d="M444.5,200.9 L433,206.2 L433,261"/>
  <path d="M451,219 L442,224.5 L442,265.5"/>
  <path d="M630.5,258 L623,262"/>
  <path d="M645.9,263.3 L623,274.6"/>
  <path d="M611.7,295.6 L611.7,303.7 L601.5,308.5"/>
  <path d="M621.7,301 L621.7,311.7 L611.7,315.8"/>
</g>
<!-- dashed segments through flange to windows -->
<g class="dash" stroke-width="0.7" opacity="0.75">
  <path d="M218.4,315.4 L244,301"/>
  <path d="M512.6,430.6 L536,417"/>
</g>

<!-- ================= SMALL LABELS ================= -->
<g class="lbl" opacity="0.995">
  <text x="98.4" y="327.9" textLength="12.8" lengthAdjust="spacingAndGlyphs">012</text>
  <text x="80.7" y="348.8" textLength="12.8" lengthAdjust="spacingAndGlyphs">012</text>
  <text x="124.2" y="369.9" textLength="12.8" lengthAdjust="spacingAndGlyphs">012</text>
  <text x="110.6" y="387.7" textLength="12.8" lengthAdjust="spacingAndGlyphs">012</text>
  <text x="393.2" y="443.2" textLength="12.8" lengthAdjust="spacingAndGlyphs">012</text>
  <text x="374.8" y="464" textLength="12.8" lengthAdjust="spacingAndGlyphs">012</text>
  <text x="418.6" y="485.2" textLength="12.8" lengthAdjust="spacingAndGlyphs">012</text>
  <text x="405" y="502.9" textLength="12.8" lengthAdjust="spacingAndGlyphs">012</text>
  <text x="403.4" y="53.8" textLength="12.8" lengthAdjust="spacingAndGlyphs">016</text>
  <text x="606" y="75.3" textLength="12.8" lengthAdjust="spacingAndGlyphs">016</text>
  <text x="443.8" y="199.6" textLength="12.8" lengthAdjust="spacingAndGlyphs">015</text>
  <text x="450.5" y="219.2" textLength="12.8" lengthAdjust="spacingAndGlyphs">015</text>
  <text x="631" y="257.6" textLength="12.8" lengthAdjust="spacingAndGlyphs">015</text>
  <text x="644.6" y="263.4" textLength="12.8" lengthAdjust="spacingAndGlyphs">015</text>
</g>

<!-- ================= CALLOUTS ================= -->
<g>
  <path class="or" d="M26,226.6 L184,226.6 L218.5,246.5"/>
  <path class="or" d="M441.5,29 L441.5,179.5 L421,192"/>
  <path class="or" d="M26,367 L88,367 L128,343.3"/>
  <path class="or" d="M747,284.6 L626,284.6"/>
  <path class="or" d="M747,357 L581,357"/>
  <path class="or" d="M389.2,529 L389.2,487.7 L428,464.8"/>
  <circle class="orc" cx="16.1" cy="226.6" r="9.8"/>
  <circle class="orc" cx="441.5" cy="19.3" r="9.8"/>
  <circle class="orc" cx="16.1" cy="367" r="9.8"/>
  <circle class="orc" cx="757" cy="285.2" r="9.8"/>
  <circle class="orc" cx="757" cy="357.2" r="9.8"/>
  <circle class="orc" cx="389.2" cy="538.8" r="9.8"/>
  <g class="co" opacity="0.995">
    <text x="16.1" y="229.8">013</text>
    <text x="441.5" y="22.5">017</text>
    <text x="16.1" y="370.2">011</text>
    <text x="757" y="288.4">014</text>
    <text x="757" y="360.4">010</text>
    <text x="389.2" y="542">011</text>
  </g>
</g>

<!-- ================= LEGEND ================= -->
<defs>
  <linearGradient id="gSh1" x1="0" x2="1" y1="0" y2="0"><stop offset="0" stop-color="#8a8d92"/><stop offset="0.3" stop-color="#6a6d72"/><stop offset="1" stop-color="#4b4e52"/></linearGradient>
  <linearGradient id="gSh2" x1="0" x2="1" y1="0" y2="0"><stop offset="0" stop-color="#b4b6ba"/><stop offset="0.35" stop-color="#8f9297"/><stop offset="1" stop-color="#6c6f74"/></linearGradient>
  <linearGradient id="gNut" x1="0" x2="1" y1="0" y2="0"><stop offset="0" stop-color="#b9bbbf"/><stop offset="0.45" stop-color="#a0a3a8"/><stop offset="0.5" stop-color="#7c7f84"/><stop offset="1" stop-color="#6a6d72"/></linearGradient>
</defs>
<g id="legend">
  <rect x="719.3" y="426.7" width="47.3" height="121.5" fill="#fff" stroke="#6a6e73" stroke-width="0.9"/>
  <path d="M719.3,457.1 H766.6 M719.3,487.4 H766.6 M719.3,517.3 H766.6" stroke="#6a6e73" stroke-width="0.9" fill="none"/>
  <g class="lbl" style="font-size:8.3px" opacity="0.995">
    <text x="728" y="446.2">016</text>
    <text x="728" y="476.7">015</text>
    <text x="728" y="507.1">012</text>
  </g>
  <!-- bolt 016 -->
  <g>
    <rect x="753.5" y="440" width="7.6" height="14" rx="1.6" fill="url(#gSh1)"/>
    <ellipse cx="757" cy="439.2" rx="8" ry="2.7" fill="#5e6166"/>
    <path d="M749.2,438.6 C751,437 752,436.8 752.4,436.3 L761.8,436.3 C762.5,437 763.5,437.3 764.9,438.6 Z" fill="#6b6e73"/>
    <path d="M752.3,431.3 C753.8,430.3 760.3,430.3 761.9,431.3 L761.9,437.6 L752.3,437.6 Z" fill="#64676c"/>
    <rect x="752.7" y="432" width="3.9" height="5.2" fill="#c9cbce"/>
    <rect x="756.6" y="432" width="2.6" height="5.2" fill="#8c8f94"/>
  </g>
  <!-- bolt 015 -->
  <g>
    <rect x="754.4" y="469" width="6.9" height="15.8" rx="1.5" fill="url(#gSh2)"/>
    <ellipse cx="757.2" cy="468.4" rx="7.2" ry="2.3" fill="#7b7e83"/>
    <path d="M750.2,467.8 C752,466.3 752.6,466 753,465.6 L761.4,465.6 C762,466.2 763,466.6 764.3,467.8 Z" fill="#8a8d92"/>
    <path d="M752.4,461.6 C753.8,460.7 760.4,460.7 761.9,461.6 L761.9,466.8 L752.4,466.8 Z" fill="#85888d"/>
    <rect x="752.8" y="462.2" width="3.8" height="4.2" fill="#dcdde0"/>
    <rect x="756.6" y="462.2" width="2.6" height="4.2" fill="#a3a6aa"/>
  </g>
  <!-- nut 012 -->
  <g>
    <path d="M750,500.5 L750.6,506.6 C752.5,509.3 761.5,509.6 763.4,506.6 L764,500.5 Z" fill="url(#gNut)"/>
    <ellipse cx="756.7" cy="499.2" rx="8.4" ry="3.5" fill="#a6a9ad"/>
    <ellipse cx="756.7" cy="498.9" rx="7.6" ry="2.9" fill="#b8babe"/>
    <ellipse cx="756.8" cy="499.4" rx="3.8" ry="1.7" fill="#5b5e63"/>
    <ellipse cx="757" cy="499.9" rx="2.4" ry="1" fill="#8e9196"/>
  </g>
  <!-- arrow -->
  <g fill="#e26f35">
    <path d="M727.5,540.9 L734.9,528.6 L738.6,531.6 L741.1,529.9 L747.9,535.4 L746.5,536.3 L749.1,538.7 Z"/>
    <path d="M743.3,528.1 L746.7,525.9 L753.9,530.9 L749.2,534 Z"/>
    <path d="M749.8,524.1 L755.7,520.9 L763.3,526.2 L756.6,530.1 Z"/>
  </g>
  <path d="M745,527 L751.5,532.5 M746.2,526.3 L752.7,531.7" stroke="#f6d9c9" stroke-width="0.5" fill="none"/>
  <path d="M727.3,542.2 L749.3,539.7" stroke="#f3f3f4" stroke-width="1" fill="none"/>
  <path d="M749,535.4 L763.6,527.2" stroke="#f3f3f4" stroke-width="0.9" fill="none"/>
  <path d="M727.1,543.3 L749.4,540.7" stroke="#6e7277" stroke-width="0.9" stroke-dasharray="2.4 1" fill="none"/>
  <path d="M748.2,536.6 L763.9,528.2" stroke="#6e7277" stroke-width="0.9" stroke-dasharray="2.4 1" fill="none"/>
  <path d="M727.1,543.3 L749.4,540.7" stroke="#d0672f" stroke-width="0.9" stroke-dasharray="1.2 2.2" stroke-dashoffset="-1.6" fill="none"/>
</g>
</svg>
</body>
</html>
